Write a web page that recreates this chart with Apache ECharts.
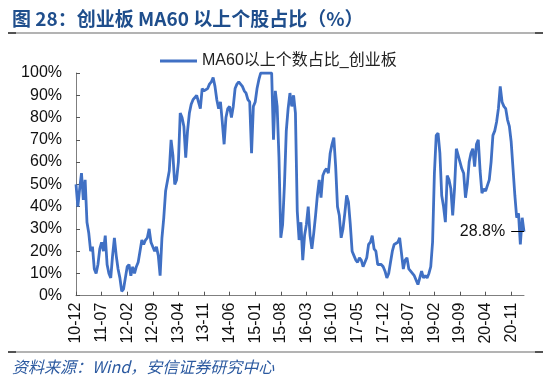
<!DOCTYPE html>
<html>
<head>
<meta charset="utf-8">
<script src="https://cdn.jsdelivr.net/npm/echarts@6/dist/echarts.min.js"></script>
<style>
html,body{margin:0;padding:0;background:#fff;}
#chart{width:550px;height:375px;}
</style>
</head>
<body>
<div id="chart"></div>
<script>
// Semi-monthly readings (%), split by period
const ratioA = [50, 40, 48, 55, 43, 52, 33, 28, 20, 22, 12, 10, 14, 21, 24, 20, 27, 14, 10, 8,
  18, 26, 18, 12, 8, 2, 3, 8, 13, 14, 9, 13, 10, 13, 15, 20, 25, 23, 25, 26,
  30, 24, 24, 20, 22, 18, 9, 26, 35, 47];
const ratioB = [47, 56, 70, 63, 50, 52, 60, 82, 80, 76, 62, 74, 82, 86, 88, 88, 90, 90, 84, 93,
  92, 92, 93, 95, 96, 98, 94, 88, 84, 87, 78, 68, 80, 84, 85, 80, 85, 93, 95, 96,
  96, 94, 92, 91, 88, 87, 64, 85, 87, 93];
const ratioC = [97, 100, 100, 100, 100, 100, 99.5, 100, 70, 92, 85, 62, 26, 32, 50, 74, 84, 91, 85, 90,
  82, 38, 25, 33, 16, 27, 32, 40, 27, 21, 28, 36, 45, 52, 44, 54, 56, 57, 55, 64,
  68, 71, 58, 40, 36, 26, 30, 37, 45, 42];
const ratioD = [32, 20, 18, 16, 15, 17, 16, 13, 15, 17, 23, 24, 27, 21, 20, 14, 14, 14, 13, 11,
  8, 10, 15, 20, 23, 23, 24, 26, 19, 12, 16, 17, 12, 12, 10, 9, 9, 5, 8, 11,
  8, 9, 8, 10, 13, 24, 55, 72, 73, 64];
const ratioE = [45, 40, 33, 54, 52, 48, 36, 48, 66, 66, 60, 57, 55, 44, 50, 60, 64, 66, 58, 68,
  70, 56, 46, 48, 47, 47, 52, 60, 72, 74, 78, 84, 94, 87, 85, 84, 79, 76, 69, 57,
  45, 35, 37, 23, 35, 28.8];
const values = [].concat(ratioA, ratioB, ratioC, ratioD, ratioE);

// x tick labels shown on the axis
const tickLabels = ['10-12','11-07','12-02','12-09','13-04','13-11','14-06','15-01','15-08',
  '16-03','16-10','17-05','17-12','18-07','19-02','19-09','20-04','20-11'];
// categories: semi-monthly from 2010-12 to 2021-02
const dates = [];
for (let m = 0; m < 123; m++) {
  const t = 11 + m;
  const y = 2010 + Math.floor(t / 12);
  const mo = String(t % 12 + 1).padStart(2, '0');
  dates.push(y + '-' + mo + '-01', y + '-' + mo + '-16');
}
const seriesName = 'MA60以上个数占比_创业板';
const lastLabel = '28.8%';

const chart = echarts.init(document.getElementById('chart'), null, {renderer: 'canvas'});
const lastIdx = values.length - 1;
chart.setOption({
  animation: false,
  backgroundColor: '#fff',
  title: [{
    text: '图 28：创业板 MA60 以上个股占比（%）',
    left: 7, top: 4,
    textStyle: {fontSize: 19, fontWeight: 'bold', color: '#1f4e8c', fontFamily: 'Noto Sans CJK SC'}
  }, {
    text: '资料来源：Wind，安信证券研究中心',
    left: 7, top: 354,
    textStyle: {fontSize: 16, fontWeight: 'normal', fontStyle: 'italic', color: '#2c5aa0', fontFamily: 'Noto Sans CJK SC'}
  }],
  legend: {
    data: [seriesName],
    left: 155, top: 48,
    icon: 'rect', itemWidth: 37, itemHeight: 3, itemGap: 4,
    textStyle: {fontSize: 16, color: '#222', fontFamily: 'Liberation Sans, Noto Sans CJK SC'}
  },
  grid: {left: 76, right: 26, top: 73, bottom: 79.3, containLabel: false},
  xAxis: {
    type: 'category',
    data: dates,
    boundaryGap: false,
    axisLine: {lineStyle: {color: '#7f7f7f', width: 1}},
    axisTick: {inside: true, interval: 13, length: 4, lineStyle: {color: '#555'}},
    axisLabel: {
      interval: 13, rotate: 90, margin: 7, fontSize: 16, color: '#111',
      fontFamily: 'Liberation Sans',
      formatter: function (v) { return v.slice(2, 7); }
    },
    splitLine: {show: false}
  },
  yAxis: {
    type: 'value', min: 0, max: 100, interval: 10,
    axisLine: {show: true, lineStyle: {color: '#7f7f7f', width: 1}},
    axisTick: {show: true, inside: true, length: 4, lineStyle: {color: '#555'}},
    axisLabel: {formatter: '{value}%', fontSize: 16, color: '#111', margin: 14, fontFamily: 'Liberation Sans'},
    splitLine: {show: false}
  },
  series: [{
    name: seriesName,
    type: 'line',
    data: values,
    symbol: 'none',
    lineStyle: {color: '#4070c4', width: 2.8},
    itemStyle: {color: '#4070c4'},
    markLine: {
      silent: true,
      symbol: ['none', 'none'],
      lineStyle: {color: '#000', width: 1, type: 'solid'},
      label: {show: true, position: 'start', formatter: lastLabel, fontSize: 16, color: '#111', distance: 6, fontFamily: 'Liberation Sans'},
      data: [[{coord: [dates[lastIdx - 7], values[lastIdx]]}, {coord: [dates[lastIdx], values[lastIdx]]}]]
    }
  }],
  graphic: [
    {type: 'line', shape: {x1: 8, y1: 33, x2: 543, y2: 33}, style: {stroke: '#9a9a9a', lineWidth: 1.5}},
    {type: 'line', shape: {x1: 8, y1: 33, x2: 16, y2: 33}, style: {stroke: '#333', lineWidth: 1.5}},
    {type: 'line', shape: {x1: 535, y1: 33, x2: 543, y2: 33}, style: {stroke: '#333', lineWidth: 1.5}},
    {type: 'line', shape: {x1: 8, y1: 352, x2: 543, y2: 352}, style: {stroke: '#9a9a9a', lineWidth: 1.5}},
    {type: 'line', shape: {x1: 8, y1: 352, x2: 16, y2: 352}, style: {stroke: '#333', lineWidth: 1.5}},
    {type: 'line', shape: {x1: 535, y1: 352, x2: 543, y2: 352}, style: {stroke: '#333', lineWidth: 1.5}}
  ]
});
</script>
</body>
</html>
